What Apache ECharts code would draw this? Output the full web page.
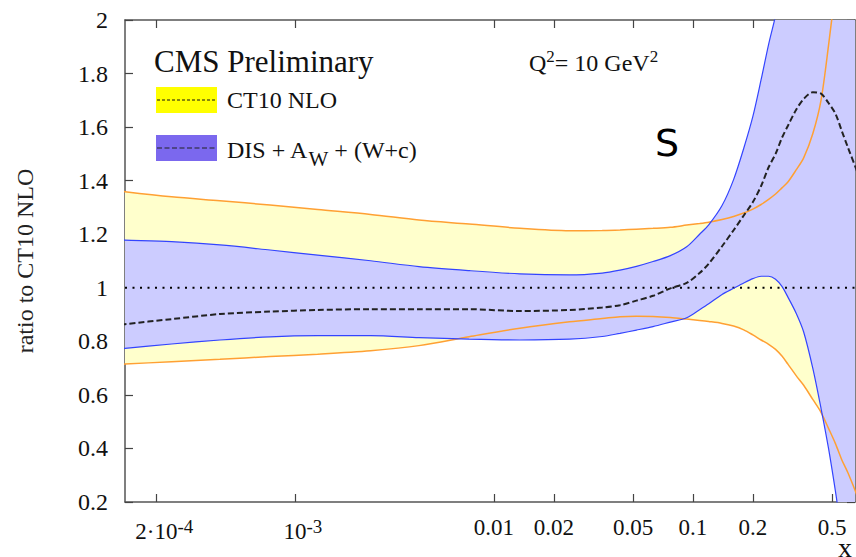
<!DOCTYPE html>
<html>
<head>
<meta charset="utf-8">
<script src="https://cdn.jsdelivr.net/npm/echarts@6/dist/echarts.min.js"></script>
<style>
  html, body { margin: 0; padding: 0; background: #fff; }
  #chart { width: 856px; height: 557px; }
</style>
</head>
<body>
<div id="chart"></div>
<script>
// x sample points (shared by every curve);
// first and last points sit just outside the plotted range
const X = [1.2e-4, 1.4e-4, 2.4e-4, 4.2e-4, 7.5e-4, 1.3e-3, 2.4e-3, 4.2e-3, 7.5e-3, 0.0135,
  0.024, 0.035, 0.043, 0.052, 0.063, 0.077, 0.093, 0.108, 0.12, 0.14,
  0.16, 0.18, 0.2, 0.22, 0.24, 0.26, 0.28, 0.3, 0.33, 0.36,
  0.4, 0.44, 0.48, 0.52, 0.56, 0.6, 0.67, 0.75];

// CT10 NLO uncertainty band (ratio to itself)
const ctUp = [1.366, 1.359, 1.340, 1.325, 1.309, 1.292, 1.274, 1.253, 1.238, 1.222,
  1.213, 1.214, 1.216, 1.219, 1.222, 1.226, 1.234, 1.240, 1.245, 1.255,
  1.266, 1.279, 1.294, 1.311, 1.330, 1.350, 1.373, 1.395, 1.440, 1.485,
  1.575, 1.700, 1.905, 2.120, 2.350, 2.550, 2.850, 3.400];
const ctLo = [0.712, 0.715, 0.724, 0.733, 0.743, 0.752, 0.765, 0.784, 0.817, 0.849,
  0.873, 0.885, 0.892, 0.894, 0.893, 0.889, 0.883, 0.878, 0.874, 0.867,
  0.857, 0.843, 0.824, 0.805, 0.789, 0.770, 0.745, 0.715, 0.672, 0.636,
  0.583, 0.535, 0.475, 0.418, 0.357, 0.310, 0.220, 0.100];

// DIS + A_W + (W+c) fit
const disUp = [1.180, 1.178, 1.172, 1.160, 1.141, 1.122, 1.101, 1.079, 1.064, 1.052,
  1.048, 1.055, 1.066, 1.080, 1.098, 1.120, 1.153, 1.200, 1.235, 1.307,
  1.404, 1.521, 1.640, 1.777, 1.909, 2.016, 2.136, 2.250, 2.410, 2.550,
  2.750, 2.950, 3.150, 3.350, 3.550, 3.750, 4.050, 4.400];
const disLo = [0.768, 0.774, 0.790, 0.805, 0.817, 0.821, 0.821, 0.814, 0.808, 0.805,
  0.808, 0.818, 0.830, 0.842, 0.855, 0.872, 0.888, 0.918, 0.940, 0.975,
  0.998, 1.018, 1.034, 1.043, 1.043, 1.032, 1.005, 0.965, 0.905, 0.835,
  0.700, 0.550, 0.400, 0.240, 0.080, -0.050, -0.250, -0.600];
const disC = [0.857, 0.864, 0.883, 0.902, 0.911, 0.917, 0.920, 0.920, 0.920, 0.913,
  0.917, 0.926, 0.935, 0.952, 0.970, 0.998, 1.018, 1.055, 1.090, 1.155,
  1.215, 1.270, 1.320, 1.380, 1.450, 1.500, 1.560, 1.605, 1.665, 1.705,
  1.730, 1.725, 1.690, 1.650, 1.585, 1.525, 1.430, 1.300];

const X_MIN = 1.4e-4, X_MAX = 0.652;
const X_TICKS = [2e-4, 1e-3, 0.01, 0.02, 0.05, 0.1, 0.2, 0.5];
const X_TICK_LABELS = ['{e|2·10}{p|-4}', '{f|10}{p|-3}', '{m|0.01}', '{m|0.02}',
  '{m|0.05}', '{m|0.1}', '{m|0.2}', '{m|0.5}'];

const CT_NAME = 'CT10 NLO';
const DIS_NAME = 'DIS + A_W + (W+c)';

const SERIF = "'Liberation Serif', 'Times New Roman', serif";
const AXIS_COLOR = '#555';
const SMOOTH = 0.3;

const chart = echarts.init(document.getElementById('chart'), null, { renderer: 'svg' });

const pts = ys => X.map((x, i) => [x, ys[i]]);

function tickLabel(v) {
  const i = X_TICKS.findIndex(t => Math.abs(Math.log10(v / t)) < 1e-3);
  return i < 0 ? '' : X_TICK_LABELS[i];
}

// filled band between two curves, drawn as one polygon through the axes
const band = (name, up, lo, color) => ({
  name, type: 'custom', silent: true, clip: true, z: 1,
  data: [[X[1], 1]],
  renderItem: (params, api) => {
    const top = X.map((x, i) => api.coord([x, up[i]]));
    const bottom = X.map((x, i) => api.coord([x, lo[i]])).reverse();
    return {
      type: 'polygon',
      shape: { points: top.concat(bottom), smooth: SMOOTH },
      style: { fill: color, stroke: null }
    };
  }
});
const edge = (ys, color, width, type) => ({
  type: 'line', data: pts(ys), symbol: 'none', smooth: SMOOTH, silent: true, z: 3,
  lineStyle: { color, width, type: type || 'solid' }
});

const xAxisBase = {
  type: 'log', logBase: 10, min: X_MIN, max: X_MAX,
  axisLine: { show: true, lineStyle: { color: AXIS_COLOR, width: 1.5 } },
  axisTick: { show: true, inside: true, length: 8, customValues: X_TICKS,
    lineStyle: { color: '#444', width: 1.2 } },
  splitLine: { show: false }, minorTick: { show: false }
};
const yAxisBase = {
  type: 'value', min: 0.2, max: 2, interval: 0.2,
  axisLine: { show: true, lineStyle: { color: AXIS_COLOR, width: 1.5 } },
  axisTick: { show: true, inside: true, length: 8, lineStyle: { color: '#444', width: 1.2 } },
  splitLine: { show: false }
};

chart.setOption({
  animation: false,
  backgroundColor: '#fff',
  grid: { left: 125, right: 1, top: 20, bottom: 55, containLabel: false },
  title: [
    { text: 'CMS Preliminary', left: 154, top: 46, padding: 0,
      textStyle: { fontFamily: SERIF, fontSize: 31, lineHeight: 31, fontWeight: 'normal', color: '#111' } },
    { text: '{a|Q}{p|2}{a|= 10 GeV}{p|2}', left: 529, top: 48, padding: 0,
      textStyle: { fontWeight: 'normal', rich: {
        a: { fontFamily: SERIF, fontSize: 24, lineHeight: 30, fontWeight: 'normal', color: '#111' },
        p: { fontFamily: SERIF, fontSize: 17, lineHeight: 16, fontWeight: 'normal', verticalAlign: 'top', color: '#111' }
      } } },
    { text: 'S', left: 655, top: 124, padding: 0,
      textStyle: { fontFamily: 'DejaVu Sans', fontSize: 38, lineHeight: 38, fontWeight: 'normal', color: '#000' } }
  ],
  legend: {
    orient: 'vertical', left: 156, top: 87, padding: 0,
    itemWidth: 61, itemHeight: 26, itemGap: 22, icon: 'rect', selectedMode: false,
    data: [
      { name: CT_NAME, itemStyle: { color: '#ffff00', borderWidth: 0 } },
      { name: DIS_NAME, itemStyle: { color: '#7b68ee', borderWidth: 0 } }
    ],
    formatter: name => name === DIS_NAME
      ? '{b|DIS + A}{s|W}{b| + (W+c)}'
      : '{a|' + name + '}',
    textStyle: {
      padding: [0, 0, 0, 5],
      rich: {
        a: { fontFamily: SERIF, fontSize: 24, lineHeight: 26, color: '#111' },
        b: { fontFamily: SERIF, fontSize: 24, lineHeight: 20, verticalAlign: 'top', color: '#111' },
        s: { fontFamily: SERIF, fontSize: 21, lineHeight: 16, padding: [10, 0, 0, 0],
          verticalAlign: 'top', color: '#111' }
      }
    }
  },
  xAxis: [
    Object.assign({}, xAxisBase, {
      position: 'bottom',
      axisLabel: {
        show: true, customValues: X_TICKS, margin: 14.5, formatter: tickLabel,
        rich: {
          m: { fontFamily: SERIF, fontSize: 23, lineHeight: 22, color: '#111' },
          e: { fontFamily: SERIF, fontSize: 23, lineHeight: 22, padding: [3, 0, 0, 17],
            verticalAlign: 'top', color: '#111' },
          f: { fontFamily: SERIF, fontSize: 23, lineHeight: 22, padding: [3, 0, 0, 16],
            verticalAlign: 'top', color: '#111' },
          p: { fontFamily: SERIF, fontSize: 19, lineHeight: 19.6, verticalAlign: 'top', color: '#111' }
        }
      }
    }),
    Object.assign({}, xAxisBase, { position: 'top', axisLabel: { show: false } })
  ],
  yAxis: [
    Object.assign({}, yAxisBase, {
      position: 'left',
      name: 'ratio to CT10 NLO', nameLocation: 'middle', nameGap: 88,
      nameTextStyle: { fontFamily: SERIF, fontSize: 24, lineHeight: 24, color: '#222' },
      axisLabel: { margin: 17, fontFamily: SERIF, fontSize: 24, color: '#111' }
    }),
    Object.assign({}, yAxisBase, { position: 'right', axisLabel: { show: false } })
  ],
  graphic: [
    { type: 'line', z: 100, shape: { x1: 157, y1: 100, x2: 216, y2: 100 },
      style: { stroke: '#111', lineWidth: 1, lineDash: [3, 2] } },
    { type: 'line', z: 100, shape: { x1: 157, y1: 148, x2: 216, y2: 148 },
      style: { stroke: '#222', lineWidth: 1.2, lineDash: [5, 2.5] } },
    { type: 'text', z: 100, x: 838, y: 541,
      style: { text: 'x', fontFamily: SERIF, fontSize: 28, lineHeight: 12, fill: '#111' } }
  ],
  series: [
    band(CT_NAME, ctUp, ctLo, '#ffffcc'),
    band(DIS_NAME, disUp, disLo, '#ccccff'),
    { type: 'line', data: [[X_MIN, 1], [X_MAX, 1]], symbol: 'none', silent: true, z: 3,
      lineStyle: { color: '#000', width: 2, type: [2, 5.5] } },
    edge(ctUp, '#ffa033', 1.5),
    edge(ctLo, '#ffa033', 1.5),
    edge(disUp, '#3344ff', 1.2),
    edge(disLo, '#3344ff', 1.2),
    edge(disC, '#222', 2, [6, 3])
  ]
});
</script>
</body>
</html>
